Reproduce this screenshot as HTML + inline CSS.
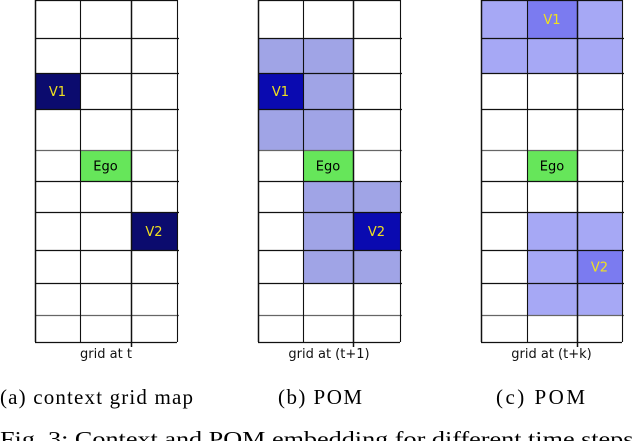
<!DOCTYPE html>
<html><head><meta charset="utf-8"><style>
body{margin:0;background:#fff;width:640px;height:441px;overflow:hidden}
svg{position:absolute;left:0;top:0}
</style></head><body>
<svg id="fig" width="640" height="441" viewBox="0 0 640 441"></svg>
<script>
const NS="http://www.w3.org/2000/svg";
const rowEdges=[0,38,73,109,150,181,212,250,283,315,342];
const gridNames=["context-grid-map","pom-t-plus-1","pom-t-plus-k"];
const gridX=[[35,80,131,177],[258,303,353,400],[481,527,577,622]];
const gridLabels=["grid at  t","grid at (t+1)","grid at (t+k)"];
const subCaptions=["(a) context grid map","(b) POM","(c) POM"];
// cells: [grid, row, col, type, label]
const cells=[
 [0,2,0,"car","V1"],[0,4,1,"ego","Ego"],[0,6,2,"car","V2"],
 [1,1,0,"occ",""],[1,1,1,"occ",""],[1,2,0,"car1","V1"],[1,2,1,"occ",""],[1,3,0,"occ",""],[1,3,1,"occ",""],
 [1,4,1,"ego","Ego"],[1,5,1,"occ",""],[1,5,2,"occ",""],[1,6,1,"occ",""],[1,6,2,"car1","V2"],[1,7,1,"occ",""],[1,7,2,"occ",""],
 [2,0,0,"occ2",""],[2,0,1,"car2","V1"],[2,0,2,"occ2",""],[2,1,0,"occ2",""],[2,1,1,"occ2",""],[2,1,2,"occ2",""],
 [2,4,1,"ego","Ego"],[2,6,1,"occ2",""],[2,6,2,"occ2",""],[2,7,1,"occ2",""],[2,7,2,"car2","V2"],[2,8,1,"occ2",""],[2,8,2,"occ2",""]
];
const fills={car:"#0b0b6e",car1:"#0a0ab0",car2:"#7b7bf0",ego:"#66e65a",occ:"#a0a4e6",occ2:"#a6a8f5"};
const svg=document.getElementById("fig");
function mk(t,a){const e=document.createElementNS(NS,t);for(const k in a)e.setAttribute(k,a[k]);svg.appendChild(e);return e;}
cells.forEach(c=>{
 const xs=gridX[c[0]];
 const r=mk("rect",{x:xs[c[2]],y:rowEdges[c[1]],width:xs[c[2]+1]-xs[c[2]],height:rowEdges[c[1]+1]-rowEdges[c[1]],fill:fills[c[3]]});
 
 
 if(c[4]){
  const t=mk("text",{x:(xs[c[2]]+xs[c[2]+1])/2,y:(rowEdges[c[1]]+rowEdges[c[1]+1])/2+5,"text-anchor":"middle","font-family":"DejaVu Sans, sans-serif","font-size":"13",fill:c[3]=="ego"?"#000":"#f0e020"});
  t.textContent=c[4];
  
  
 }
});
gridX.forEach((xs,g)=>{
 rowEdges.forEach((y,i)=>{
  const l=mk("line",{x1:xs[0],x2:xs[3]+(i>0&&i<rowEdges.length-1?2:0),y1:y+0.5,y2:y+0.5,stroke:(i==4||i==9)?"#666":"#111","stroke-width":1.3});
  
  
 });
 xs.forEach((x,i)=>{
  const l=mk("line",{x1:x+0.5,x2:x+0.5,y1:0,y2:(i==2)?347:342,stroke:"#111","stroke-width":(i==0||i==2)?1.5:1.1});
  
  
 });
 const t=mk("text",{x:(xs[0]+xs[3])/2,y:358,"text-anchor":"middle","font-family":"DejaVu Sans, sans-serif","font-size":"13",fill:"#111"});
 t.textContent=gridLabels[g];
 
 
});
const capX=[0,278,496];
const capW=[193,84,89];
subCaptions.forEach((s,i)=>{
 const t=mk("text",{x:capX[i],y:404,"font-family":"Liberation Serif, serif","font-size":"21",fill:"#000",textLength:capW[i],lengthAdjust:"spacing"});
 t.textContent=s;
 
 
});
const cap=mk("text",{x:0,y:446,"font-family":"Liberation Serif, serif","font-size":"21",fill:"#000",textLength:640,lengthAdjust:"spacingAndGlyphs"});
cap.textContent="Fig. 3: Context and POM embedding for different time steps.";


</script>
</body></html>
